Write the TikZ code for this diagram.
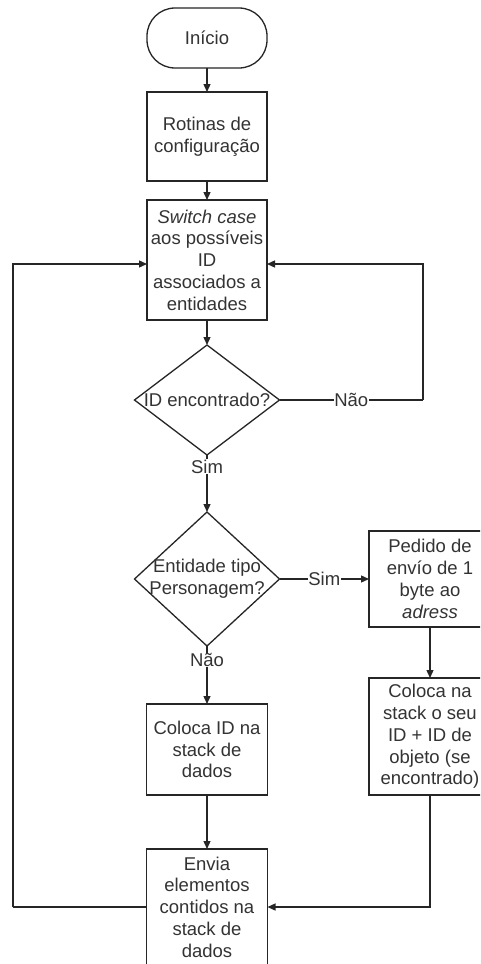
\documentclass[tikz,border=0pt]{standalone}
\usepackage{fontspec}
\setmainfont{Liberation Sans}
\usetikzlibrary{arrows.meta,shapes.geometric}
\definecolor{ln}{HTML}{262626}
\definecolor{tx}{HTML}{333333}
\begin{document}
\begin{tikzpicture}[x=1pt,y=-1pt,
 every node/.style={outer sep=0pt, text=tx, font=\fontsize{18.5}{21.8}\selectfont},
 box/.style={draw=ln, line width=1.3pt, rectangle, inner sep=0pt, align=center},
 dec/.style={draw=ln, line width=1.3pt, diamond, inner sep=0pt},
 conn/.style={draw=ln, line width=1.3pt, -{Triangle[length=8pt,width=7pt]}},
 plain/.style={draw=ln, line width=1.3pt},
 lbl/.style={fill=white, inner sep=0.5pt}]
\fill[white] (0,0) rectangle (480,964);
\clip (0,0) rectangle (480,964);
\node[box, rounded corners=28pt, minimum width=120pt, minimum height=60pt] (start) at (207,38) {Início};
\node[box, minimum width=120pt, minimum height=89pt] (rot) at (207,136.5) {Rotinas de\\configuração};
\node[box, minimum width=120pt, minimum height=120pt] (sw) at (207,260) {\textit{Switch case}\\aos possíveis\\ID\\associados a\\entidades};
\node[dec, minimum width=145pt, minimum height=110pt] (d1) at (207,400) {};
\node (d1t) at (d1.center) {ID encontrado?};
\node[dec, minimum width=145pt, minimum height=134pt] (d2) at (207,579) {};
\node[align=center] (d2t) at (d2.center) {Entidade tipo\\Personagem?};
\node[box, minimum width=122pt, minimum height=96pt] (ped) at (430,579) {Pedido de\\envío de 1\\byte ao\\\textit{adress}};
\node[box, minimum width=121pt, minimum height=91pt] (cid) at (207,749.5) {Coloca ID na\\stack de\\dados};
\node[box, minimum width=122pt, minimum height=117pt] (cn) at (430,736.5) {Coloca na\\stack o seu\\ID + ID de\\objeto (se\\encontrado)};
\node[box, minimum width=121pt, minimum height=116pt] (env) at (207,907) {Envia\\elementos\\contidos na\\stack de\\dados};
\coordinate (nr) at (423,400);
\coordinate (bl) at (13,907);
\draw[conn] (start) -- (rot);
\draw[conn] (rot) -- (sw);
\draw[conn] (sw) -- (d1.north);
\draw[plain] (d1.east) -- node[lbl] {Não} (nr);
\draw[conn] (nr) |- ([yshift=-4pt]sw.east);
\draw[conn] (d1.south) -- node[lbl, pos=0.2] {Sim} (d2.north);
\draw[conn] (d2.east) -- node[lbl] {Sim} (ped.west);
\draw[conn] (d2.south) -- node[lbl, pos=0.24] {Não} (cid.north);
\draw[conn] (ped) -- (cn);
\draw[conn] (cid) -- (env);
\draw[conn] (cn.south) |- (env.east);
\draw[plain] (env.west) -- (bl);
\draw[conn] (bl) |- ([yshift=-4pt]sw.west);
\end{tikzpicture}
\end{document}
